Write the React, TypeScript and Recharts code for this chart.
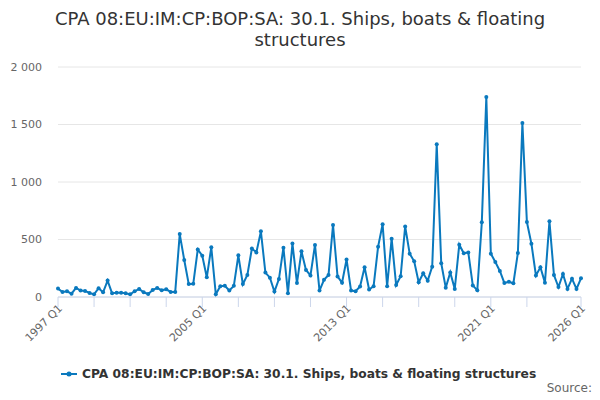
import { LineChart, Line, XAxis, YAxis, CartesianGrid } from "recharts";

const FIRST_YEAR = 1997;

// quarterly values, 1997 Q1 .. 2026 Q1
const VALUES = [
  73, 44, 50, 29, 79, 56, 53, 35, 23, 76, 41, 143, 32, 38, 38, 32, 23, 50, 70, 41,
  26, 61, 79, 58, 67, 44, 44, 547, 322, 112, 115, 413, 359, 171, 432, 24, 94, 97, 56, 97,
  362, 112, 191, 421, 388, 571, 212, 168, 47, 156, 429, 32, 465, 121, 397, 235, 188, 453, 56, 150,
  191, 626, 179, 124, 326, 56, 50, 91, 259, 65, 94, 438, 632, 93, 507, 104, 180, 614, 377, 310,
  128, 206, 142, 264, 1328, 293, 81, 214, 70, 455, 380, 388, 101, 58, 649, 1739, 377, 304, 226, 122,
  133, 119, 383, 1513, 652, 464, 188, 258, 125, 658, 191, 87, 200, 70, 159, 70, 162,
];

const QUARTERS = VALUES.map((_, i) => `${FIRST_YEAR + Math.floor(i / 4)} Q${(i % 4) + 1}`);

const TICK_MARKS = [
  "1997 Q1", "1999 Q1", "2001 Q1", "2003 Q1", "2005 Q1", "2007 Q1", "2009 Q1", "2011 Q1",
  "2013 Q1", "2015 Q1", "2017 Q1", "2019 Q1", "2021 Q1", "2023 Q1", "2026 Q1",
];
const TICK_LABELS = ["1997 Q1", "2005 Q1", "2013 Q1", "2021 Q1", "2026 Q1"];
const Y_TICKS = [0, 500, 1000, 1500, 2000];

const TITLE_LINES = ["CPA 08:EU:IM:CP:BOP:SA: 30.1. Ships, boats & floating", "structures"];
const SERIES_NAME = "CPA 08:EU:IM:CP:BOP:SA: 30.1. Ships, boats & floating structures";

const data = QUARTERS.map((q, i) => ({ quarter: q, value: VALUES[i] }));

const COLOR = "#0a79be";
const FONT = "'DejaVu Sans', sans-serif";
const PLOT_BOTTOM = 297;

function fmt(v: number) {
  return String(v).replace(/\B(?=(\d{3})+(?!\d))/g, " ");
}

function QuarterTick(props: any) {
  const { x, payload } = props;
  if (!TICK_LABELS.includes(payload.value)) return <g />;
  const ax = x + 5;
  const ay = PLOT_BOTTOM + 12;
  return (
    <text
      x={ax}
      y={ay}
      transform={`rotate(-45 ${ax} ${ay})`}
      textAnchor="end"
      fontSize={11}
      fill="#666666"
      fontFamily={FONT}
    >
      {payload.value}
    </text>
  );
}

export default function App() {
  return (
    <div
      style={{
        position: "fixed",
        left: 0,
        top: 0,
        width: 600,
        height: 400,
        background: "#fff",
        fontFamily: FONT,
      }}
    >
      <div
        style={{
          position: "absolute",
          top: 8,
          left: 0,
          width: 600,
          textAlign: "center",
          fontSize: 18,
          lineHeight: "21px",
          color: "#333333",
        }}
      >
        {TITLE_LINES.map((l) => (
          <div key={l}>{l}</div>
        ))}
      </div>

      <LineChart width={600} height={400} data={data} margin={{ top: 67, right: 19, left: 0, bottom: 43 }}>
        <CartesianGrid vertical={false} stroke="#e6e6e6" />
        <XAxis
          dataKey="quarter"
          ticks={TICK_MARKS}
          interval={0}
          height={60}
          padding={{ left: 0, right: 0 }}
          stroke="#ccd6eb"
          tickSize={10}
          tickLine={{ stroke: "#ccd6eb" }}
          tick={<QuarterTick />}
        />
        <YAxis
          width={58}
          domain={[0, 2000]}
          ticks={Y_TICKS}
          axisLine={false}
          tickLine={false}
          tickSize={0}
          tickMargin={16}
          tickFormatter={fmt}
          tick={{ fontSize: 11, fill: "#666666", fontFamily: FONT }}
        />
        <Line
          type="linear"
          dataKey="value"
          stroke={COLOR}
          strokeWidth={2}
          dot={{ r: 2, fill: COLOR, stroke: COLOR, strokeWidth: 0 }}
          isAnimationActive={false}
        />
      </LineChart>

      <svg style={{ position: "absolute", left: 0, top: 355 }} width={600} height={45}>
        <line x1={61} x2={77} y1={19} y2={19} stroke={COLOR} strokeWidth={2} />
        <circle cx={69} cy={19} r={2.5} fill={COLOR} />
        <text x={82} y={23} fontSize={12.25} fontWeight="bold" fill="#333333" fontFamily={FONT}>
          {SERIES_NAME}
        </text>
        <text x={592} y={37} fontSize={12} textAnchor="end" fill="#666666" fontFamily={FONT}>
          Source:
        </text>
      </svg>
    </div>
  );
}
